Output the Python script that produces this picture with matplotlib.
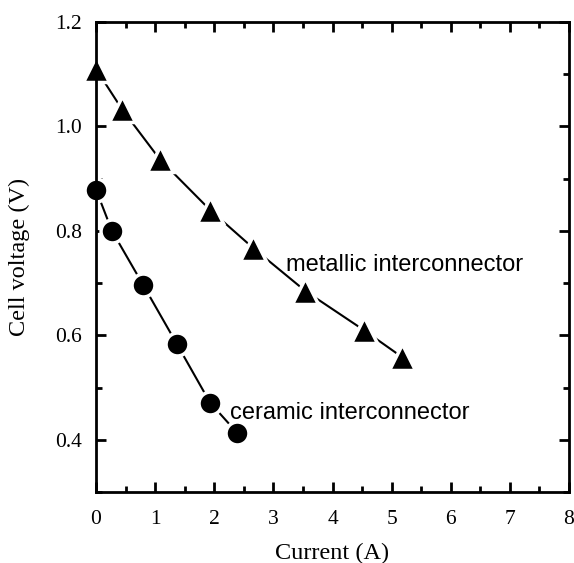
import matplotlib
matplotlib.use("Agg")
import matplotlib.pyplot as plt
from matplotlib.ticker import MultipleLocator

metallic_x = [0.0, 0.44, 1.08, 1.93, 2.66, 3.54, 4.53, 5.18]
metallic_y = [1.11, 1.033, 0.937, 0.84, 0.767, 0.685, 0.61, 0.558]
ceramic_x = [0.0, 0.27, 0.80, 1.37, 1.93, 2.39]
ceramic_y = [0.879, 0.80, 0.696, 0.583, 0.471, 0.413]

fig = plt.figure(figsize=(5.74, 5.63), dpi=100)
ax = fig.add_axes([96/574, 1-492/563, (569-96)/574, (492-22)/563])

ax.plot(metallic_x, metallic_y, color='black', lw=1.5, marker='^', ms=19,
        mfc='black', mec='white', mew=2.5, clip_on=False, zorder=3)
ax.plot(ceramic_x, ceramic_y, color='black', lw=1.5, marker='o', ms=16.5,
        mfc='black', mec='white', mew=2.5, clip_on=False, zorder=3)

ax.set_xlim(0, 8)
ax.set_ylim(0.3, 1.2)
ax.xaxis.set_major_locator(MultipleLocator(1))
ax.xaxis.set_minor_locator(MultipleLocator(0.5))
ax.yaxis.set_major_locator(MultipleLocator(0.2))
ax.yaxis.set_minor_locator(MultipleLocator(0.1))
ax.set_yticks([0.4, 0.6, 0.8, 1.0, 1.2])
ax.tick_params(which='both', direction='in', top=True, right=True, width=2)
ax.tick_params(which='major', length=7, labelsize=15.5)
ax.tick_params(axis='x', which='major', pad=13)
ax.tick_params(axis='y', which='major', pad=10)
ax.tick_params(which='minor', length=4)
for lab in ax.get_xticklabels() + ax.get_yticklabels():
    lab.set_family('Liberation Serif')
for s in ax.spines.values():
    s.set_linewidth(2)
    s.set_zorder(4)

ax.set_xlabel('Current (A)', family='Liberation Serif', fontsize=17.5, labelpad=10)
ax.set_ylabel('Cell voltage (V)', family='Liberation Serif', fontsize=17.5, labelpad=18)

ax.text(3.21, 0.735, 'metallic interconnector', family='Liberation Sans', fontsize=17,
        va='center', ha='left')
ax.text(2.27, 0.452, 'ceramic interconnector', family='Liberation Sans', fontsize=17,
        va='center', ha='left')

fig.savefig('out.png', dpi=100)
